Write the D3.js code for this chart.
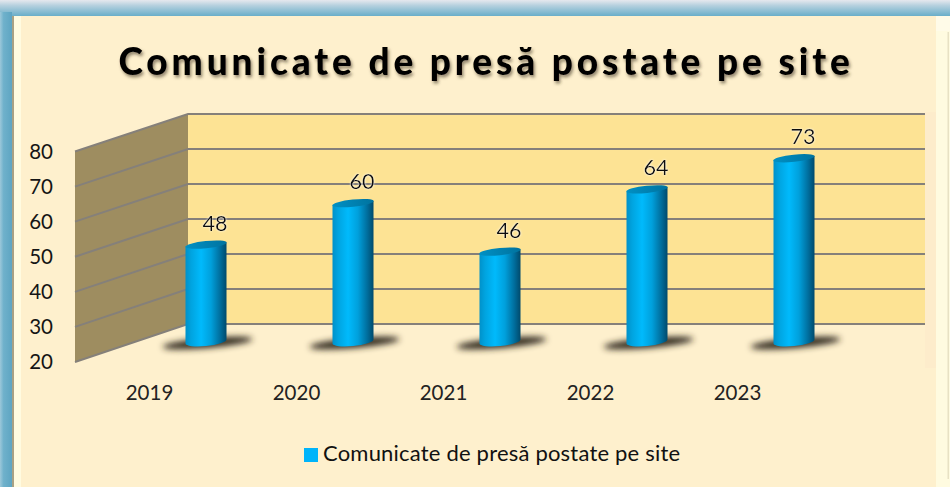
<!DOCTYPE html>
<html><head><meta charset="utf-8">
<script src="https://cdn.jsdelivr.net/npm/d3@7/dist/d3.min.js"></script>
<style>html,body{margin:0;padding:0;background:#fffbe0;overflow:hidden}svg{display:block}text{font-family:Lato,"Open Sans",sans-serif}</style>
</head><body><svg id="c" width="950" height="487"></svg>
<script>
const chartTitle = "Comunicate de presă postate pe site";
const categories = ["2019","2020","2021","2022","2023"];
const values = [48,60,46,64,73];
const yTicks = [20,30,40,50,60,70,80];
const yDomain = [20,80];

const svg = d3.select("#c");
const defs = svg.append("defs");
const W = 950, H = 487;

const grad = (id, stops, x2=1, y2=0) => {
  const g = defs.append("linearGradient").attr("id", id).attr("x1",0).attr("y1",0).attr("x2",x2).attr("y2",y2);
  stops.forEach(([o,c]) => g.append("stop").attr("offset",o).attr("stop-color",c));
};
grad("frameTop", [[0,"#e6e8ee"],[0.35,"#b5d0de"],[1,"#69aec9"]], 0, 1);
grad("frameLeft", [[0,"#9cc8da"],[0.3,"#6fb1cb"],[1,"#5ea5c2"]]);
grad("cyl", [[0,"#0091c9"],[0.14,"#00a4e0"],[0.38,"#00bafc"],[0.62,"#00a0dc"],[0.85,"#006d9c"],[1,"#004a6c"]]);
grad("cap", [[0,"#0090c4"],[1,"#00739f"]]);
defs.append("filter").attr("id","blur").attr("x","-30%").attr("y","-150%").attr("width","160%").attr("height","400%")
  .append("feGaussianBlur").attr("stdDeviation",3);
const ts = defs.append("filter").attr("id","tshadow").attr("x","-5%").attr("y","-20%").attr("width","110%").attr("height","150%");
ts.append("feDropShadow").attr("dx",1.5).attr("dy",2.5).attr("stdDeviation",1.6).attr("flood-color","#3a3220").attr("flood-opacity",0.55);
const glow = defs.append("filter").attr("id","glow").attr("x","-30%").attr("y","-30%").attr("width","160%").attr("height","160%");
glow.append("feDropShadow").attr("dx",0).attr("dy",0).attr("stdDeviation",1.2).attr("flood-color","#ffffff").attr("flood-opacity",0.9);

// frame
svg.append("rect").attr("width",W).attr("height",H).attr("fill","#fffbe0");
svg.append("rect").attr("width",W).attr("height",16).attr("fill","url(#frameTop)");
svg.append("rect").attr("y",12).attr("width",12).attr("height",H-12).attr("fill","url(#frameLeft)");
svg.append("rect").attr("x",12).attr("y",16).attr("width",2).attr("height",H-16).attr("fill","#a8a184");
svg.append("rect").attr("x",21).attr("y",16).attr("width",915).attr("height",H-16).attr("fill","#fef0cd");
svg.append("rect").attr("x",936).attr("y",16).attr("width",14).attr("height",15).attr("fill","#fffbe8");
svg.append("rect").attr("x",947.5).attr("y",32).attr("width",1.5).attr("height",H-40).attr("fill","#e8e2c4");
svg.append("rect").attr("x",925).attr("y",112).attr("width",11).attr("height",256).attr("fill","#fdeccb");

// scales
const wallFront = {x:75}, wallBack = {x:188, right:925};
const yFront = d3.scaleLinear().domain(yDomain).range([362,151.5]);
const yBack  = d3.scaleLinear().domain(yDomain).range([324,114]);
const yBar   = d3.scaleLinear().domain(yDomain).range([341.5,134]);
const xCat = d3.scalePoint().domain(categories).range([149,737]);
const barW = 41, barOff = 36.5;

// walls
svg.append("rect").attr("x",wallBack.x).attr("y",yBack(80)).attr("width",wallBack.right-wallBack.x)
  .attr("height",yBack(20)-yBack(80)).attr("fill","#fde394");
svg.append("polygon").attr("fill","#9e8d60").attr("points",[
  [wallFront.x,yFront(80)],[wallBack.x,yBack(80)],[wallBack.x,yBack(20)],[wallFront.x,yFront(20)]].join(" "));

// gridlines
svg.append("g").selectAll("polyline").data(yTicks).join("polyline")
  .attr("fill","none").attr("stroke","#85807a").attr("stroke-width",2)
  .attr("points",d => [[wallFront.x,yFront(d)],[wallBack.x,yBack(d)],[wallBack.right,yBack(d)]].join(" "));

// y axis
const yAxis = svg.append("g").attr("transform","translate(53,0)")
  .call(d3.axisLeft(yFront).tickValues(yTicks).tickSize(0).tickPadding(0));
yAxis.select(".domain").remove();
yAxis.selectAll("text").attr("font-size",20.5).attr("fill","#151515").style("font-family","Lato");

// x axis
const xAxis = svg.append("g").attr("transform","translate(0,385)")
  .call(d3.axisBottom(xCat).tickSize(0).tickPadding(0));
xAxis.select(".domain").remove();
xAxis.selectAll("text").attr("font-size",20.5).attr("fill","#222").style("font-family","Lato");

// bars
const bars = svg.append("g").selectAll("g").data(categories.map((c,i)=>({c,v:values[i]}))).join("g");
const tilt = 4.2, ry = 4.6;
bars.append("ellipse")
  .attr("cx",d=>xCat(d.c)+barOff+22).attr("cy",yBar(20)+1.5).attr("rx",45).attr("ry",5)
  .attr("transform",d=>`rotate(-5 ${xCat(d.c)+barOff+22} ${yBar(20)+1.5})`)
  .attr("fill","#2e261c").attr("filter","url(#blur)");
bars.append("path").attr("fill","url(#cyl)").attr("d",d=>{
  const l=xCat(d.c)+barOff, r=l+barW, t=yBar(d.v), b=yBar(20);
  return `M${l},${t+tilt/2}L${r},${t-tilt/2}L${r},${b-tilt/2}`+
    `A${barW/2},${ry} -6 0 1 ${l},${b+tilt/2}Z`;
});
bars.append("ellipse")
  .attr("cx",d=>xCat(d.c)+barOff+barW/2).attr("cy",d=>yBar(d.v)).attr("rx",barW/2+0.3).attr("ry",ry-1)
  .attr("transform",d=>`rotate(-6 ${xCat(d.c)+barOff+barW/2} ${yBar(d.v)})`)
  .attr("fill","url(#cap)");

// value labels
bars.append("text").attr("x",d=>xCat(d.c)+66).attr("y",d=>yBar(d.v)-22)
  .attr("text-anchor","middle").attr("dominant-baseline","central")
  .attr("font-size",21.5).attr("fill","#111").attr("filter","url(#glow)").text(d=>d.v);

// title
svg.append("text").attr("x",486).attr("y",75).attr("text-anchor","middle")
  .attr("font-size",37).attr("font-weight",900).attr("letter-spacing",3.9).attr("fill","#050505")
  .attr("filter","url(#tshadow)").text(chartTitle);

// legend
svg.append("rect").attr("x",304).attr("y",448).attr("width",14).attr("height",14).attr("fill","#00b4fa");
svg.append("text").attr("x",323).attr("y",461).attr("font-size",22).attr("letter-spacing",0.2).attr("fill","#111").text(chartTitle);
</script></body></html>
